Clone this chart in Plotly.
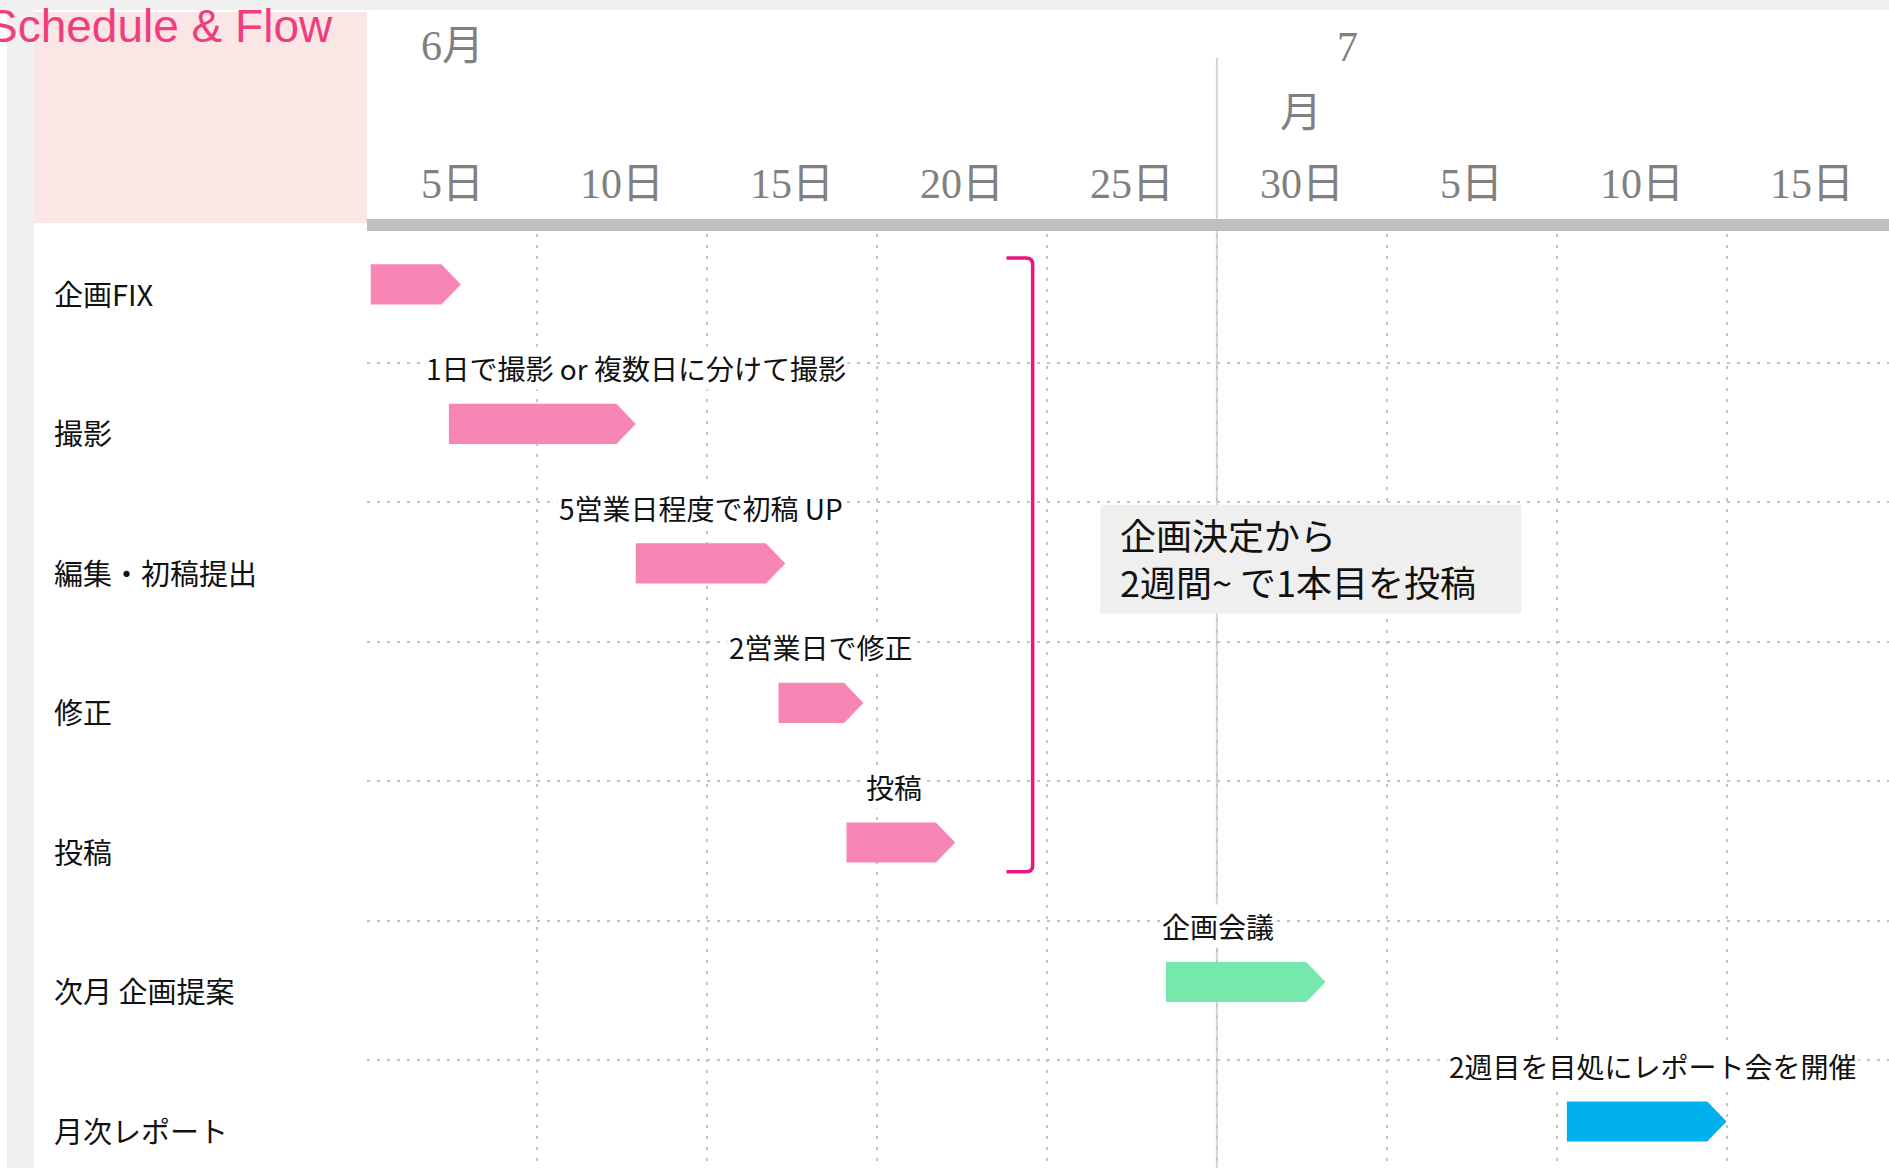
import plotly.graph_objects as go

# ---------------- data ----------------
tasks = ["企画FIX", "撮影", "編集・初稿提出", "修正", "投稿", "次月 企画提案", "月次レポート"]
start_day = [2.6, 4.9, 10.4, 14.6, 16.6, 26.0, 37.8]
end_day = [5.25, 10.4, 14.8, 17.1, 19.8, 30.7, 42.5]
task_group = ["flow", "flow", "flow", "flow", "flow", "meeting", "report"]
notes = ["", "1日で撮影 or 複数日に分けて撮影", "5営業日程度で初稿 UP", "2営業日で修正",
         "投稿", "企画会議", "2週目を目処にレポート会を開催"]
note_day = [None, 4.16, 8.09, 13.09, 17.13, 25.84, 34.27]
tick_days = [5, 10, 15, 20, 25, 30, 35, 40, 45]
tick_labels = ["5日", "10日", "15日", "20日", "25日", "30日", "5日", "10日", "15日"]
month_labels = ["6月", "7月"]
gridline_days = [2.5, 7.5, 12.5, 17.5, 22.5, 27.5, 32.5, 37.5, 42.5]
month_boundary_day = 27.5
callout_lines = ["企画決定から", "2週間~ で1本目を投稿"]
bracket_first_task, bracket_last_task = 0, 4
bracket_day = 22.08
title = "Schedule & Flow"

# ---------------- style ----------------
W, H = 1889, 1168
ML, MT = 367, 223
PW, PH = W - ML, H - MT
X_RANGE = [2.49, 47.28]
Y_RANGE = [6.274, -0.5]

def px_x(px):
    return (px - ML) / PW

def px_y(py):
    return (H - py) / PH

group_color = {"flow": "#F786B4", "meeting": "#74E8AD", "report": "#00B0EF"}
GRID_COLOR = "#C3C3C3"
TICK_FONT = dict(family="Liberation Serif, Noto Sans CJK JP", size=42, color="#808080")
SANS = "Noto Sans CJK JP, Liberation Sans"
BAR_OFF, BAR_HALF, TIP = -0.06, 0.1435, 0.57
NOTE_OFF = -0.46

fig = go.Figure()

# bars (pentagon arrows)
for i, (s, e, g) in enumerate(zip(start_day, end_day, task_group)):
    yc = i + BAR_OFF
    xs = [s, e - TIP, e, e - TIP, s, s]
    ys = [yc - BAR_HALF, yc - BAR_HALF, yc, yc + BAR_HALF, yc + BAR_HALF, yc - BAR_HALF]
    fig.add_trace(go.Scatter(x=xs, y=ys, mode="lines", fill="toself",
                             fillcolor=group_color[g], line=dict(width=0),
                             hoverinfo="skip", showlegend=False))

shapes = []
# background strips / header panel
shapes.append(dict(type="rect", xref="paper", yref="paper", x0=px_x(0), x1=px_x(W),
                   y0=px_y(10), y1=px_y(0), fillcolor="#F0F0F0", line=dict(width=0), layer="below"))
shapes.append(dict(type="rect", xref="paper", yref="paper", x0=px_x(7), x1=px_x(34),
                   y0=px_y(H), y1=px_y(0), fillcolor="#F0F0F0", line=dict(width=0), layer="below"))
shapes.append(dict(type="rect", xref="paper", yref="paper", x0=px_x(34), x1=px_x(367),
                   y0=px_y(223), y1=px_y(12), fillcolor="#FBE6E6", line=dict(width=0), layer="below"))
# month boundary
shapes.append(dict(type="line", xref="x", yref="paper", x0=month_boundary_day, x1=month_boundary_day,
                   y0=0, y1=px_y(58), line=dict(color="#D4D4D4", width=2), layer="below"))
# thick top axis bar
shapes.append(dict(type="line", xref="paper", yref="paper", x0=0, x1=1, y0=px_y(225), y1=px_y(225),
                   line=dict(color="#BFBFBF", width=12), layer="above"))
# callout box
shapes.append(dict(type="rect", xref="x", yref="y", x0=24.07, x1=36.46, y0=1.52, y1=2.30,
                   fillcolor="#EFEFEF", line=dict(width=0), layer="above"))
# bracket
bx0, bx1 = bracket_day - 0.77, bracket_day
by0, by1 = bracket_first_task - 0.25, bracket_last_task + 0.15
rx, ry = 0.2, 0.045
path = (f"M {bx0},{by0} L {bx1 - rx},{by0} Q {bx1},{by0} {bx1},{by0 + ry} "
        f"L {bx1},{by1 - ry} Q {bx1},{by1} {bx1 - rx},{by1} L {bx0},{by1}")
shapes.append(dict(type="path", xref="x", yref="y", path=path,
                   line=dict(color="#E8177F", width=3.5), layer="above"))

annotations = []
# title
annotations.append(dict(text=title, xref="paper", yref="paper", x=px_x(335), y=px_y(26),
                        xanchor="right", yanchor="middle", showarrow=False,
                        font=dict(family="Liberation Sans, Arial", size=46, color="#F23C80")))
# row labels
for i, t in enumerate(tasks):
    annotations.append(dict(text=t, xref="paper", yref="y", x=px_x(52), y=i,
                            xanchor="left", yanchor="middle", showarrow=False,
                            font=dict(family=SANS, size=29, color="#111111")))
# notes
for i, (n, d) in enumerate(zip(notes, note_day)):
    if not n:
        continue
    annotations.append(dict(text=n, xref="x", yref="y", x=d, y=i + NOTE_OFF,
                            xanchor="left", yanchor="middle", showarrow=False,
                            bgcolor="#FFFFFF", borderpad=1,
                            font=dict(family=SANS, size=28, color="#111111")))
# day tick labels
for d, lab in zip(tick_days, tick_labels):
    annotations.append(dict(text=lab, xref="x", yref="paper", x=d, y=px_y(184),
                            xanchor="center", yanchor="middle", showarrow=False, font=TICK_FONT))
# month labels
annotations.append(dict(text=month_labels[0], xref="x", yref="paper", x=5, y=px_y(46),
                        xanchor="center", yanchor="middle", showarrow=False, font=TICK_FONT))
annotations.append(dict(text=month_labels[1][:-1], xref="x", yref="paper", x=31.34, y=px_y(47),
                        xanchor="center", yanchor="middle", showarrow=False, font=TICK_FONT))
annotations.append(dict(text=month_labels[1][-1], xref="x", yref="paper", x=29.99, y=px_y(113),
                        xanchor="center", yanchor="middle", showarrow=False, font=TICK_FONT))
# callout text
annotations.append(dict(text="<br>".join(callout_lines), xref="x", yref="y", x=24.6, y=1.90,
                        xanchor="left", yanchor="middle", align="left", showarrow=False,
                        font=dict(family=SANS, size=36, color="#111111")))

fig.update_layout(
    width=W, height=H,
    margin=dict(l=ML, r=0, t=MT, b=0, pad=0),
    paper_bgcolor="#FFFFFF", plot_bgcolor="rgba(0,0,0,0)",
    shapes=shapes, annotations=annotations,
    xaxis=dict(range=X_RANGE, tickvals=gridline_days, showticklabels=False, ticks="",
               showgrid=True, gridcolor=GRID_COLOR, gridwidth=2, griddash="3px,8px",
               zeroline=False, showline=False, fixedrange=True),
    yaxis=dict(range=Y_RANGE, tickvals=[i + 0.5 for i in range(len(tasks) - 1)],
               showticklabels=False, ticks="",
               showgrid=True, gridcolor=GRID_COLOR, gridwidth=2, griddash="3px,7px",
               zeroline=False, showline=False, fixedrange=True),
    showlegend=False,
)

fig.write_html("out.html", config={"displayModeBar": False},
               post_script="document.body.style.margin='0';document.body.style.overflow='hidden';")
